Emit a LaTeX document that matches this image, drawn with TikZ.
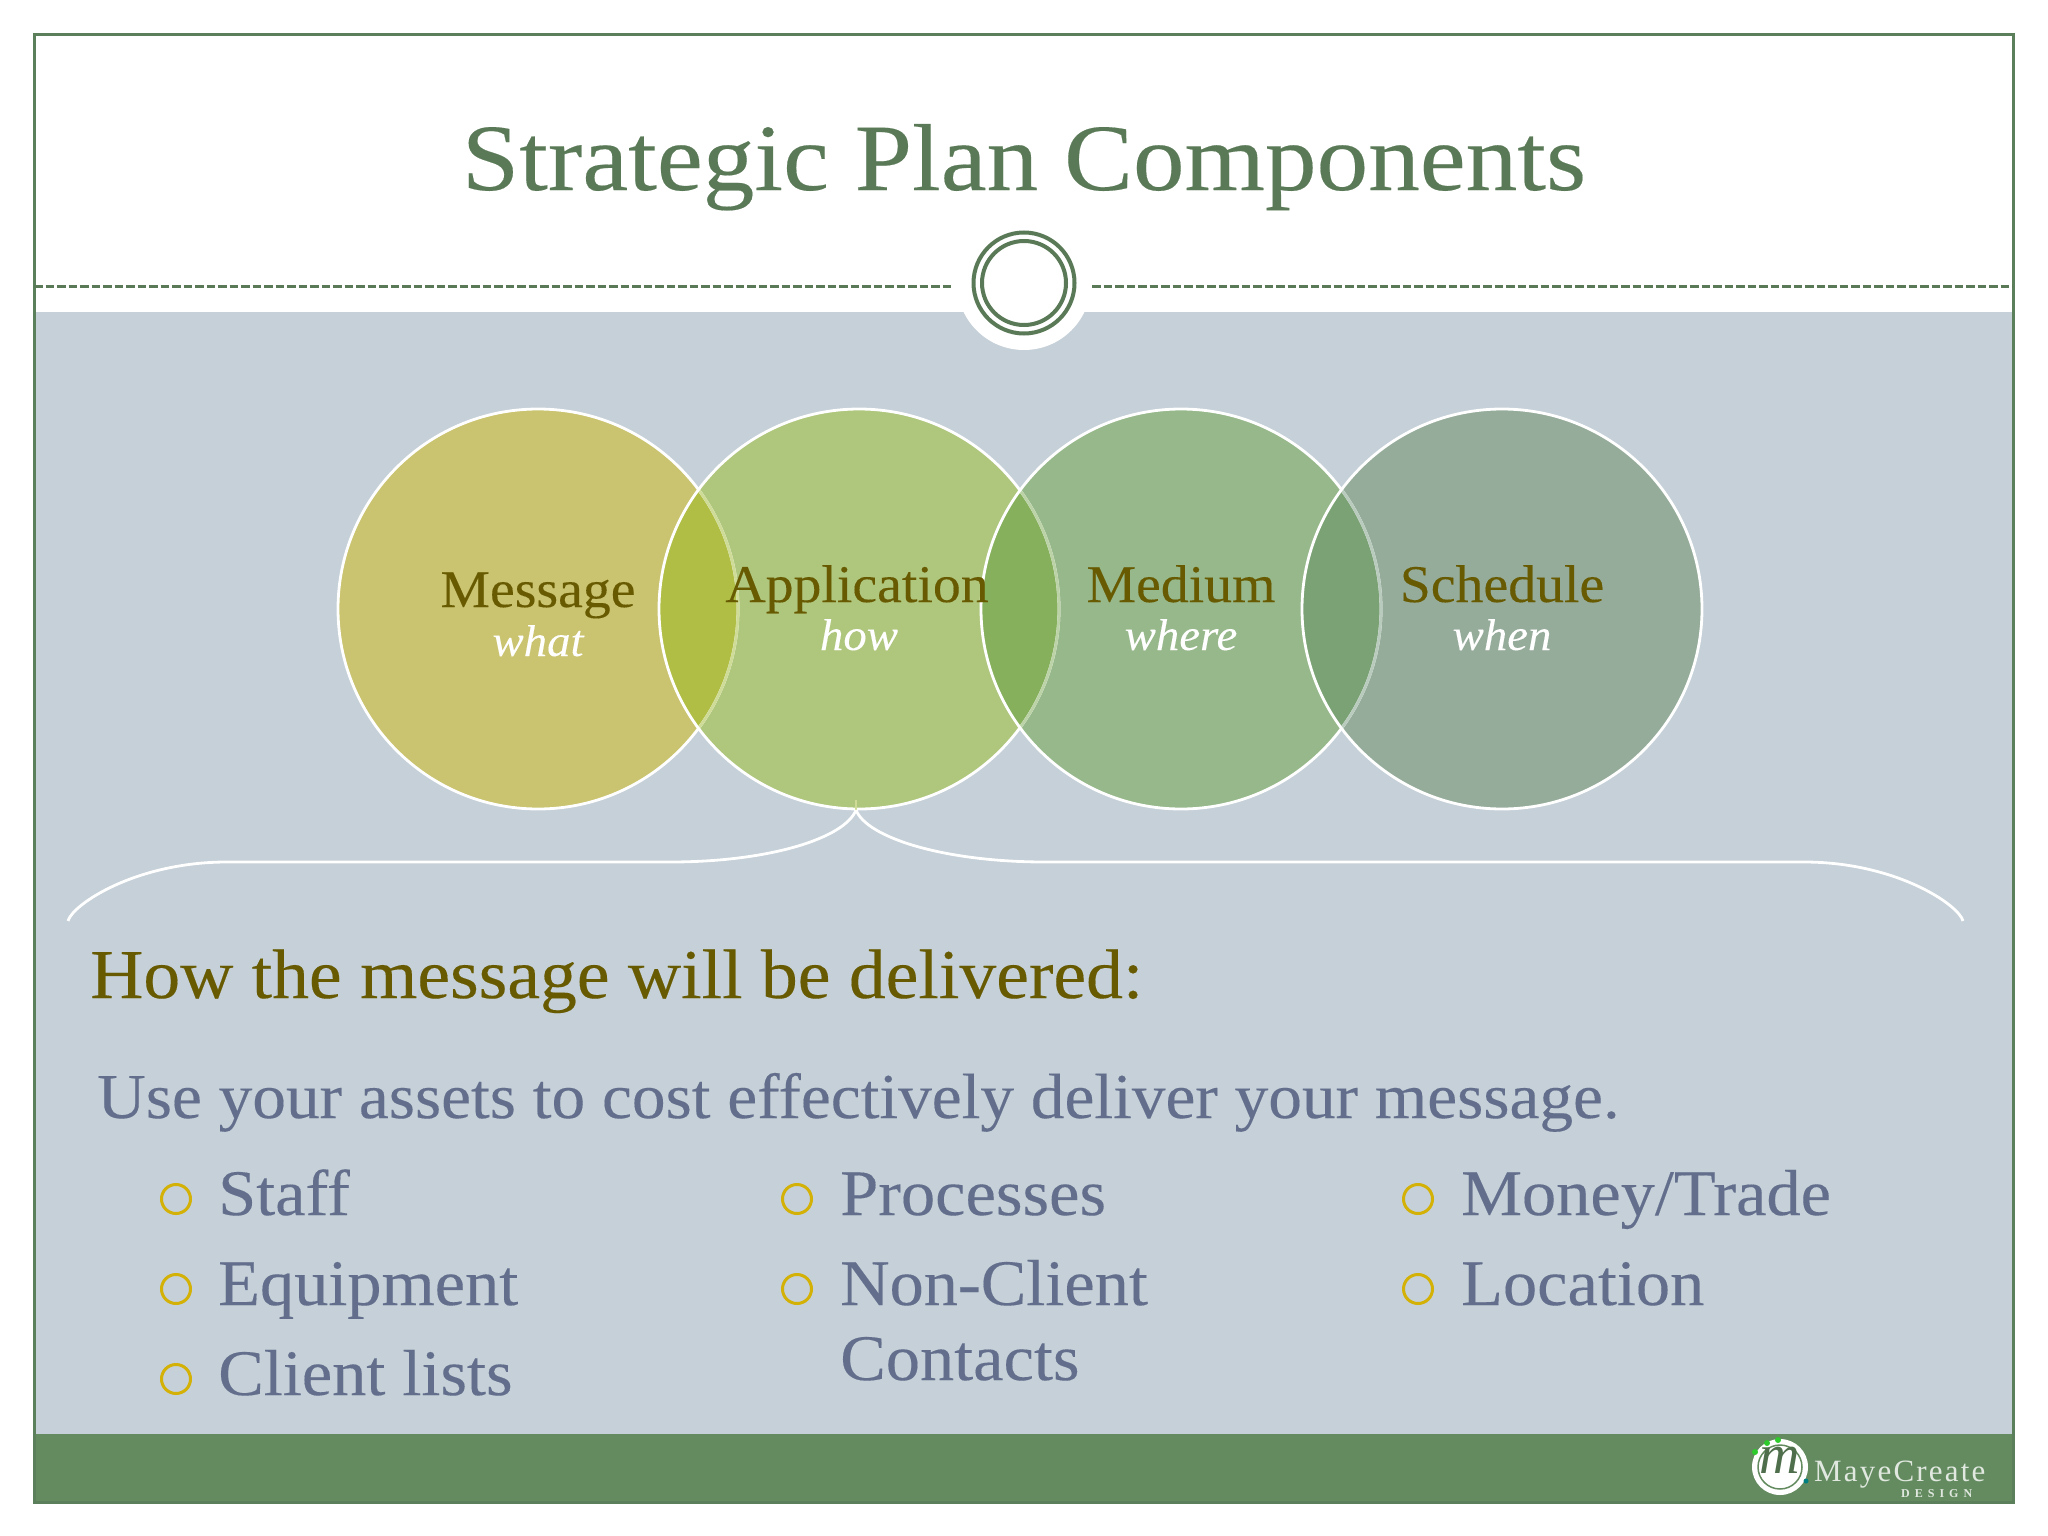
\documentclass[tikz,border=0pt]{standalone}
\usepackage{fontspec}
\setmainfont{Liberation Serif}
\newfontfamily\constitle[FakeStretch=1.087,FakeBold=0.2]{Liberation Serif}
\newfontfamily\consbody[FakeStretch=1.052,FakeBold=0.2]{Liberation Serif}
\definecolor{slate}{HTML}{C5D0D8}
\definecolor{framec}{HTML}{5A7F5A}
\definecolor{barc}{HTML}{638B5F}
\definecolor{titlec}{HTML}{5A7A57}
\definecolor{olive}{HTML}{675A00}
\definecolor{bodyc}{HTML}{626E8C}
\definecolor{bulc}{HTML}{D4B106}
\definecolor{ca}{HTML}{CAC36F}
\definecolor{cb}{HTML}{AFC67D}
\definecolor{cc}{HTML}{97B88B}
\definecolor{cd}{HTML}{96AC9B}
\definecolor{oa}{HTML}{B1BE45}
\definecolor{ob}{HTML}{86B05C}
\definecolor{oc}{HTML}{7BA275}
\definecolor{fa}{HTML}{CFDC97}
\definecolor{fb}{HTML}{BCD3A8}
\definecolor{fc}{HTML}{B8CBBC}
\tikzset{
 x=1pt,y=-1pt,
 ttl/.style={anchor=base,inner sep=0,text=titlec,font=\constitle\fontsize{95}{95}\selectfont},
 cname/.style={anchor=base,inner sep=0,text=olive,font=\consbody\fontsize{53}{53}\selectfont},
 csub/.style={anchor=base,inner sep=0,text=white,font=\consbody\fontsize{44.5}{44.5}\itshape\selectfont},
 head/.style={anchor=base west,inner sep=0,text=olive,font=\consbody\fontsize{70}{70}\selectfont},
 body/.style={anchor=base west,inner sep=0,text=bodyc,font=\consbody\fontsize{64}{64}\selectfont},
 blist/.style={anchor=base west,inner sep=0,text=bodyc,font=\consbody\fontsize{65}{65}\selectfont},
 bul/.style={circle,draw=bulc,line width=3pt,minimum size=29pt,inner sep=0},
 venn/.style={draw=white,line width=2.8pt},
 brace/.style={draw=white,line width=2.8pt},
 logo/.style={inner sep=0,text=white!80!barc},
 ring/.style={circle,draw=titlec,line width=4pt,inner sep=0},
 dashln/.style={draw=titlec,line width=3pt,dash pattern=on 8.5pt off 3pt},
}
\begin{document}
\begin{tikzpicture}
\useasboundingbox (0,0) rectangle (2048,1536);
\fill[white] (0,0) rectangle (2048,1536);
\fill[slate] (34,312) rectangle (2013,1435);
\fill[barc] (34,1434) rectangle (2013,1502);
\draw[framec,line width=3pt] (34,35) rectangle (2013,1502);
% header ornament
\draw[dashln] (34,286) -- (953,286);
\draw[dashln] (1092,286) -- (2013,286);
\fill[white] (1024,283) circle[radius=67];
\node[ring,minimum size=101pt] (ringo) at (1024,283) {};
\node[ring,minimum size=84pt] (ringi) at (1024,283) {};
\node[ttl] (title) at (1024,190) {Strategic Plan Components};
% brace
\coordinate (tip) at (856,810);
\coordinate (tick) at (856,800);
\coordinate (bl) at (68,921);
\coordinate (br) at (1963,921);
% venn fills
\fill[ca] (538,609) circle[radius=200];
\fill[cb] (859,609) circle[radius=200];
\fill[cc] (1181,609) circle[radius=200];
\fill[cd] (1502,609) circle[radius=200];
\begin{scope}\clip (538,609) circle[radius=200]; \fill[oa] (859,609) circle[radius=200];\end{scope}
\begin{scope}\clip (859,609) circle[radius=200]; \fill[ob] (1181,609) circle[radius=200];\end{scope}
\begin{scope}\clip (1181,609) circle[radius=200]; \fill[oc] (1502,609) circle[radius=200];\end{scope}
\draw[venn] (538,609) circle[radius=200];
\begin{scope}\clip (859,609) circle[radius=200]; \draw[line width=2.8pt,fa] (538,609) circle[radius=200];\end{scope}
\draw[venn] (859,609) circle[radius=200];
\begin{scope}\clip (1181,609) circle[radius=200]; \draw[line width=2.8pt,fb] (859,609) circle[radius=200];\end{scope}
\draw[venn] (1181,609) circle[radius=200];
\begin{scope}\clip (1502,609) circle[radius=200]; \draw[line width=2.8pt,fc] (1181,609) circle[radius=200];\end{scope}
\draw[venn] (1502,609) circle[radius=200];
\draw[line width=2pt,fa] (tick) -- (tip);
\draw[brace] (tip) .. controls (845,838) and (770,862) .. (670,862) -- (227,862)
  .. controls (135,862) and (72,905) .. (bl);
\draw[brace] (tip) .. controls (867,838) and (945,862) .. (1045,862) -- (1804,862)
  .. controls (1896,862) and (1959,905) .. (br);
\node[cname] (n1) at (538,607) {Message};
\node[csub]  (s1) at (538,656) {what};
\node[cname] (n2) at (857,602) {Application};
\node[csub]  (s2) at (859,650) {how};
\node[cname] (n3) at (1181,602) {Medium};
\node[csub]  (s3) at (1181,650) {where};
\node[cname] (n4) at (1502,602) {Schedule};
\node[csub]  (s4) at (1502,650) {when};
% text
\node[head] (h) at (90,998) {How the message will be delivered:};
\node[body] (u) at (97,1118) {Use your assets to cost effectively deliver your message.};
\node[bul] (b1) at (176,1199) {}; \node[blist] (t1) at (218,1215) {Staff};
\node[bul] (b2) at (176,1289) {}; \node[blist] (t2) at (218,1305) {Equipment};
\node[bul] (b3) at (176,1379) {}; \node[blist] (t3) at (218,1395) {Client lists};
\node[bul] (b4) at (797,1199) {}; \node[blist] (t4) at (840,1215) {Processes};
\node[bul] (b5) at (797,1289) {}; \node[blist] (t5) at (840,1305) {Non-Client};
\node[blist] (t6) at (840,1380) {Contacts};
\node[bul] (b7) at (1418,1199) {}; \node[blist] (t7) at (1461,1215) {Money/Trade};
\node[bul] (b8) at (1418,1289) {}; \node[blist] (t8) at (1461,1305) {Location};
% logo
\node[circle,fill=white,minimum size=56pt,inner sep=0] (lg) at (1780,1467) {};
\node[circle,draw=barc,line width=1.5pt,minimum size=44pt,inner sep=0] (lgr) at (1780,1467) {};
\node[inner sep=0,text=barc!80!black,font=\fontsize{56}{56}\itshape\selectfont] (lgm) at (1780,1460) {m};
\fill[green!55!barc] (1755,1452) circle[radius=3] (1767,1443) circle[radius=3] (1778,1440) circle[radius=3];
\fill[teal] (1806,1481) circle[radius=2.5];
\node[logo,anchor=base west,font=\fontsize{31}{31}\selectfont] (lgt) at (1814,1481) {M\kern2.2pt a\kern2.2pt y\kern2.2pt e\kern2.2pt C\kern2.2pt r\kern2.2pt e\kern2.2pt a\kern2.2pt t\kern2.2pt e};
\node[logo,anchor=base west,font=\fontsize{12}{12}\bfseries\selectfont] (lgd) at (1901,1497) {D\kern5pt E\kern5pt S\kern5pt I\kern5pt G\kern5pt N};
\end{tikzpicture}
\end{document}
